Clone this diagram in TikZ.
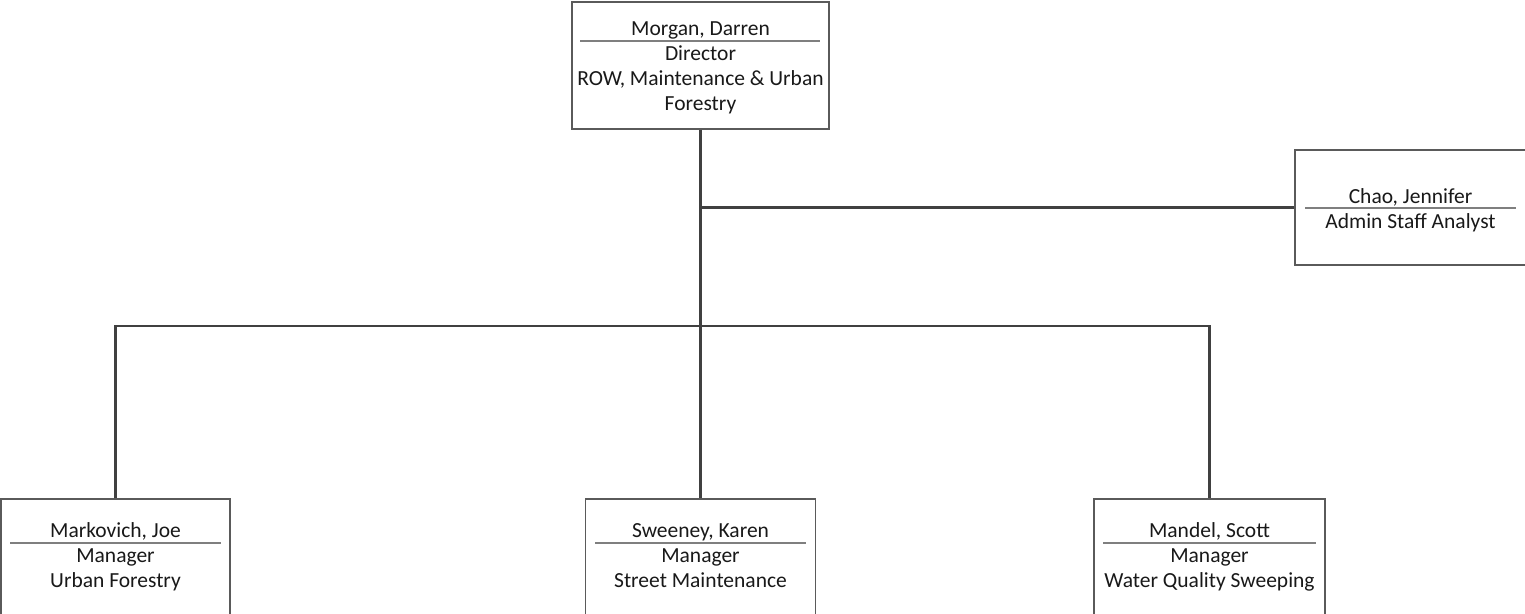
\documentclass[tikz,border=0pt]{standalone}
\usepackage{fontspec}
\setmainfont{Carlito}
\begin{document}
\begin{tikzpicture}[x=1pt,y=-1pt,
  box/.style={draw=boxgray,line width=1.2pt,rectangle,inner sep=0pt,fill=white},
  conn/.style={draw=linegray,line width=2.8pt},
  sep/.style={draw=sepgray,line width=1.3pt},
  txt/.style={anchor=base,inner sep=0pt,font=\fontsize{21.5}{25}\selectfont,text=black!90}]
\definecolor{boxgray}{HTML}{5A5A5A}
\definecolor{linegray}{HTML}{404040}
\definecolor{sepgray}{HTML}{7F7F7F}
\useasboundingbox (0,0) rectangle (1525,613);
\fill[white] (0,0) rectangle (1525,613);
% boxes
\node[box,minimum width=257pt,minimum height=127pt] (morgan) at (700.5,65.5) {};
\node[box,minimum width=233pt,minimum height=115pt] (chao) at (1411.5,207.5) {};
\node[box,minimum width=229pt,minimum height=140pt] (markovich) at (115.5,569) {};
\node[box,minimum width=230pt,minimum height=140pt] (sweeney) at (700.5,569) {};
\node[box,minimum width=231pt,minimum height=140pt] (mandel) at (1209.5,569) {};
% connectors
\coordinate (bus) at (700.5,326);
\draw[conn] (morgan.south) -- (sweeney.north);
\draw[conn] (morgan.south |- chao.west) -- (chao.west);
\draw[conn] (markovich.north) |- (bus) -| (mandel.north);
% separators
\draw[sep] (580,41) -- (820,41);
\draw[sep] (1305,208) -- (1516,208);
\draw[sep] (10,543) -- (221,543);
\draw[sep] (595,543) -- (806,543);
\draw[sep] (1103,543) -- (1316,543);
% texts
\node[txt] (t1) at (700.5,35.5) {Morgan, Darren};
\node[txt] (t2) at (700.5,60) {Director};
\node[txt] (t3) at (700.5,85) {ROW, Maintenance \& Urban};
\node[txt] (t4) at (700.5,110) {Forestry};
\node[txt] (t5) at (1410.5,203) {Chao, Jennifer};
\node[txt] (t6) at (1410.5,228) {Admin Staff Analyst};
\node[txt] (t7) at (115.5,537) {Markovich, Joe};
\node[txt] (t8) at (115.5,562) {Manager};
\node[txt] (t9) at (115.5,587) {Urban Forestry};
\node[txt] (t10) at (700.5,537) {Sweeney, Karen};
\node[txt] (t11) at (700.5,562) {Manager};
\node[txt] (t12) at (700.5,587) {Street Maintenance};
\node[txt] (t13) at (1209.5,537) {Mandel, Scott};
\node[txt] (t14) at (1209.5,562) {Manager};
\node[txt] (t15) at (1209.5,587) {Water Quality Sweeping};
\end{tikzpicture}
\end{document}
